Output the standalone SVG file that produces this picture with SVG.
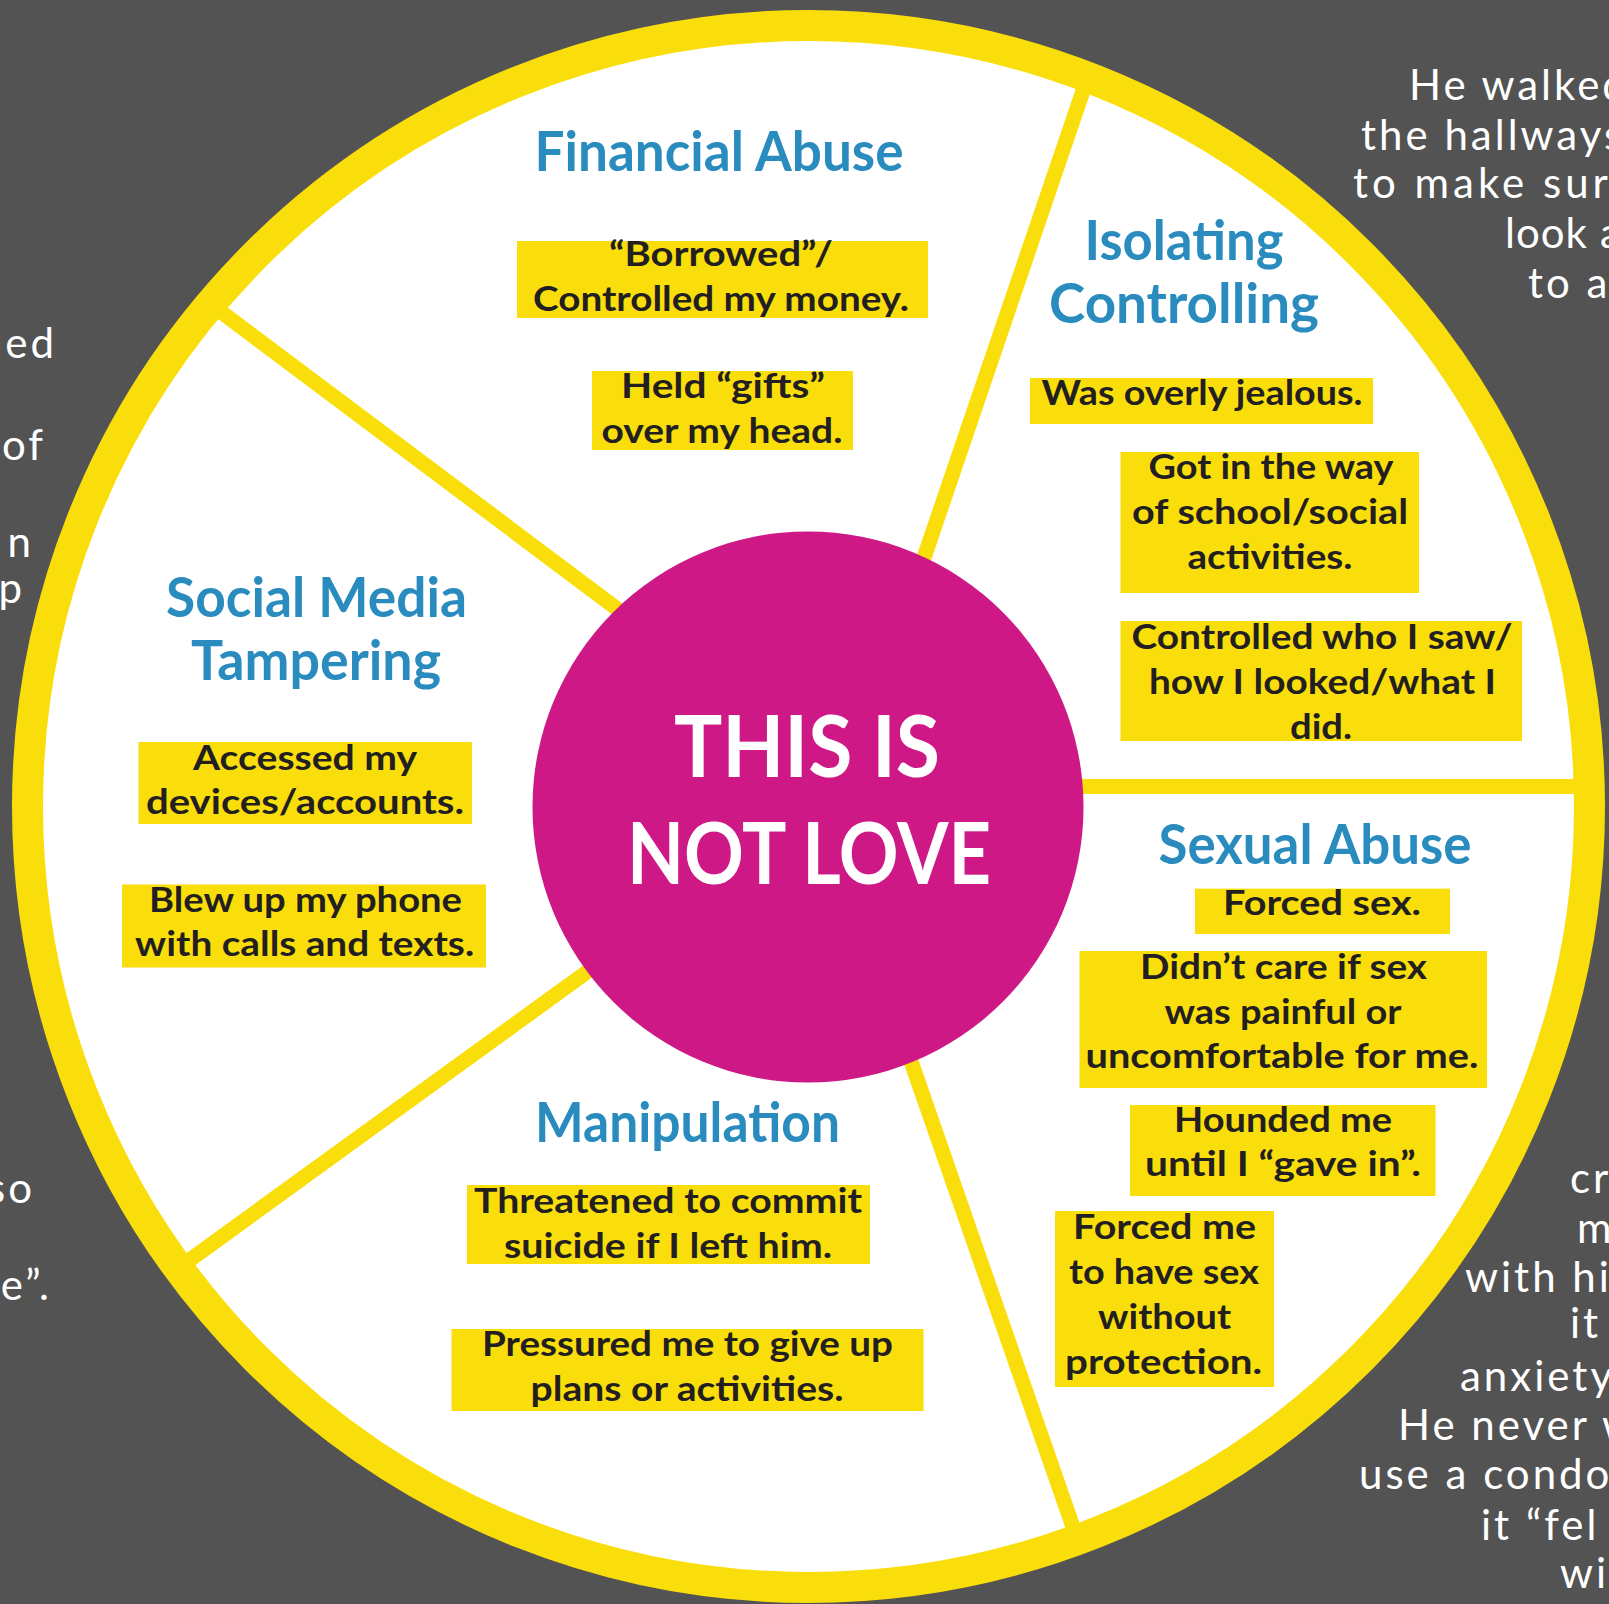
<svg xmlns="http://www.w3.org/2000/svg" width="1609" height="1604" viewBox="0 0 1609 1604">
<style>
.bg{fill:#535353}
.ring{fill:#ffffff;stroke:#FADE0B;stroke-width:31}
.core{fill:#CE1886}
.spoke{stroke:#FADE0B;stroke-width:15;fill:none}
.box{fill:#FADE0B}
.hdr{font-family:Lato,"Open Sans",sans-serif;font-weight:700;font-size:56px;fill:#2A8CBE;text-anchor:middle}
.txt{font-family:Lato,"Open Sans",sans-serif;font-weight:700;font-size:35px;fill:#231F20;text-anchor:middle}
.big{font-family:Lato,"Open Sans",sans-serif;font-weight:700;font-size:86px;fill:#ffffff;text-anchor:middle}
.hand{font-family:Lato,"Open Sans",sans-serif;font-weight:400;font-size:42px;fill:#ffffff;letter-spacing:3px}
.end{text-anchor:end}
</style>
<rect class="bg" x="0" y="0" width="1609" height="1604"/>
<circle class="ring" cx="808.5" cy="806.5" r="781"/>
<g id="connectors">
<line class="spoke" x1="1086" y1="82" x2="909.6" y2="600"/>
<line class="spoke" x1="1060" y1="786.5" x2="1585" y2="786.5"/>
<line class="spoke" x1="212" y1="305" x2="650" y2="633.5"/>
<line class="spoke" x1="180" y1="1267" x2="620" y2="948"/>
<line class="spoke" x1="903.6" y1="1040" x2="1077.5" y2="1540"/>
</g>
<g id="center">
<circle class="core" cx="808" cy="807" r="275.5"/>
<text class="big" x="807" y="777" textLength="266" lengthAdjust="spacingAndGlyphs">THIS IS</text>
<text class="big" x="809" y="884" textLength="364" lengthAdjust="spacingAndGlyphs">NOT LOVE</text>
</g>
<g id="financial">
<text class="hdr" x="719" y="171" textLength="369" lengthAdjust="spacingAndGlyphs">Financial Abuse</text>
<rect class="box" x="517" y="241" width="411" height="77"/>
<text class="txt" x="721" y="266" textLength="224" lengthAdjust="spacingAndGlyphs">“Borrowed”/</text>
<text class="txt" x="721" y="311" textLength="376" lengthAdjust="spacingAndGlyphs">Controlled my money.</text>
<rect class="box" x="592" y="371" width="261" height="79"/>
<text class="txt" x="723" y="398" textLength="204" lengthAdjust="spacingAndGlyphs">Held “gifts”</text>
<text class="txt" x="722" y="443" textLength="241" lengthAdjust="spacingAndGlyphs">over my head.</text>
</g>
<g id="isolating">
<text class="hdr" x="1184" y="260" textLength="199" lengthAdjust="spacingAndGlyphs">Isolating</text>
<text class="hdr" x="1184" y="323" textLength="270" lengthAdjust="spacingAndGlyphs">Controlling</text>
<rect class="box" x="1030" y="378" width="343" height="46"/>
<text class="txt" x="1202" y="405" textLength="321" lengthAdjust="spacingAndGlyphs">Was overly jealous.</text>
<rect class="box" x="1120.5" y="452" width="298.5" height="141"/>
<text class="txt" x="1271" y="479" textLength="245" lengthAdjust="spacingAndGlyphs">Got in the way</text>
<text class="txt" x="1270" y="524" textLength="276" lengthAdjust="spacingAndGlyphs">of school/social</text>
<text class="txt" x="1270" y="569" textLength="165" lengthAdjust="spacingAndGlyphs">activities.</text>
<rect class="box" x="1120.5" y="621" width="401.5" height="120"/>
<text class="txt" x="1322" y="649" textLength="381" lengthAdjust="spacingAndGlyphs">Controlled who I saw/</text>
<text class="txt" x="1322.5" y="694" textLength="347" lengthAdjust="spacingAndGlyphs">how I looked/what I</text>
<text class="txt" x="1321" y="739" textLength="62" lengthAdjust="spacingAndGlyphs">did.</text>
</g>
<g id="social">
<text class="hdr" x="316.5" y="617" textLength="301" lengthAdjust="spacingAndGlyphs">Social Media</text>
<text class="hdr" x="316" y="680" textLength="250" lengthAdjust="spacingAndGlyphs">Tampering</text>
<rect class="box" x="138.5" y="742" width="333.5" height="82"/>
<text class="txt" x="305" y="770" textLength="224" lengthAdjust="spacingAndGlyphs">Accessed my</text>
<text class="txt" x="305" y="814" textLength="318" lengthAdjust="spacingAndGlyphs">devices/accounts.</text>
<rect class="box" x="122" y="884.5" width="364" height="83"/>
<text class="txt" x="305.5" y="912" textLength="313" lengthAdjust="spacingAndGlyphs">Blew up my phone</text>
<text class="txt" x="304.6" y="956" textLength="339" lengthAdjust="spacingAndGlyphs">with calls and texts.</text>
</g>
<g id="sexual">
<text class="hdr" x="1315" y="864" textLength="313" lengthAdjust="spacingAndGlyphs">Sexual Abuse</text>
<rect class="box" x="1195" y="888.6" width="255" height="45.4"/>
<text class="txt" x="1322" y="915" textLength="198" lengthAdjust="spacingAndGlyphs">Forced sex.</text>
<rect class="box" x="1079.5" y="951" width="407.5" height="137"/>
<text class="txt" x="1283.6" y="979" textLength="287" lengthAdjust="spacingAndGlyphs">Didn’t care if sex</text>
<text class="txt" x="1283" y="1024" textLength="237" lengthAdjust="spacingAndGlyphs">was painful or</text>
<text class="txt" x="1282" y="1068" textLength="393" lengthAdjust="spacingAndGlyphs">uncomfortable for me.</text>
<rect class="box" x="1130" y="1105" width="305.5" height="91"/>
<text class="txt" x="1283" y="1132" textLength="218" lengthAdjust="spacingAndGlyphs">Hounded me</text>
<text class="txt" x="1283" y="1176" textLength="276" lengthAdjust="spacingAndGlyphs">until I “gave in”.</text>
<rect class="box" x="1055" y="1211" width="219" height="176"/>
<text class="txt" x="1164.6" y="1238.5" textLength="183" lengthAdjust="spacingAndGlyphs">Forced me</text>
<text class="txt" x="1164" y="1284" textLength="190" lengthAdjust="spacingAndGlyphs">to have sex</text>
<text class="txt" x="1164.6" y="1329" textLength="133" lengthAdjust="spacingAndGlyphs">without</text>
<text class="txt" x="1163.6" y="1374" textLength="197" lengthAdjust="spacingAndGlyphs">protection.</text>
</g>
<g id="manipulation">
<text class="hdr" x="687.5" y="1142" textLength="305" lengthAdjust="spacingAndGlyphs">Manipulation</text>
<rect class="box" x="467" y="1185" width="403" height="79"/>
<text class="txt" x="668" y="1213" textLength="388" lengthAdjust="spacingAndGlyphs">Threatened to commit</text>
<text class="txt" x="668" y="1258" textLength="328" lengthAdjust="spacingAndGlyphs">suicide if I left him.</text>
<rect class="box" x="451.5" y="1329" width="472" height="82"/>
<text class="txt" x="687.5" y="1355.5" textLength="411" lengthAdjust="spacingAndGlyphs">Pressured me to give up</text>
<text class="txt" x="687" y="1400.6" textLength="313" lengthAdjust="spacingAndGlyphs">plans or activities.</text>
</g>
<g id="notes">
<text class="hand" x="1409" y="100">He walked</text>
<text class="hand" x="1361" y="150">the hallways</text>
<text class="hand" x="1353" y="198" style="letter-spacing:4px">to make sur</text>
<text class="hand" x="1505" y="248" style="letter-spacing:1px">look<tspan x="1600">a</tspan></text>
<text class="hand" x="1528" y="298">to a</text>
<text class="hand end" x="57" y="358">ned</text>
<text class="hand end" x="46" y="460">of</text>
<text class="hand end" x="34" y="557">n</text>
<text class="hand end" x="25" y="603">p</text>
<text class="hand end" x="35" y="1203">so</text>
<text class="hand end" x="52" y="1300">ne”.</text>
<text class="hand" x="1570" y="1193">cr</text>
<text class="hand" x="1577" y="1243">m</text>
<text class="hand" x="1465" y="1292">with hi</text>
<text class="hand" x="1570" y="1338">it</text>
<text class="hand" x="1460" y="1391">anxiety</text>
<text class="hand" x="1398" y="1440">He never w</text>
<text class="hand" x="1359" y="1489">use a condo</text>
<text class="hand" x="1481" y="1540">it “fel</text>
<text class="hand" x="1560" y="1588">wi</text>
</g>
</svg>
